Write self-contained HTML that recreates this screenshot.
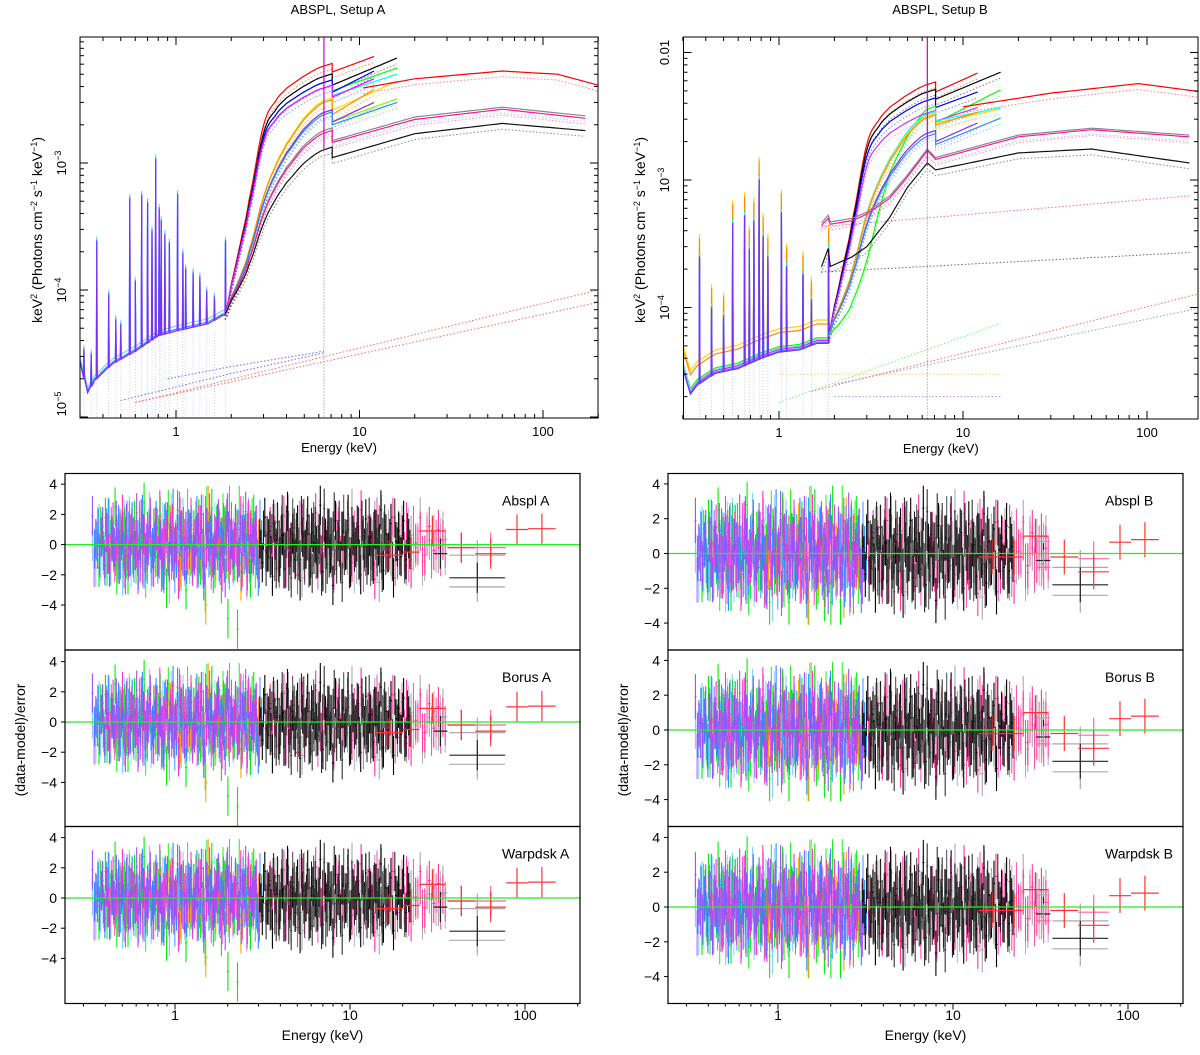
<!DOCTYPE html>
<html><head><meta charset="utf-8"><title>ABSPL spectra and residuals</title>
<style>
html,body{margin:0;padding:0;background:#fff;}
svg{display:block;font-family:"Liberation Sans","DejaVu Sans",sans-serif;}
</style></head>
<body>
<svg id="fig" width="1200" height="1055" viewBox="0 0 1200 1055" xmlns="http://www.w3.org/2000/svg">
<defs>
<clipPath id="clipTL"><rect x="80" y="37" width="518" height="381"/></clipPath>
<clipPath id="clipTR"><rect x="683.5" y="37" width="514.5" height="382"/></clipPath>
<clipPath id="clipBL0"><rect x="65" y="473.5" width="515" height="176.5"/></clipPath>
<clipPath id="clipBL1"><rect x="65" y="650" width="515" height="176.5"/></clipPath>
<clipPath id="clipBL2"><rect x="65" y="826.5" width="515" height="177"/></clipPath>
<clipPath id="clipBR0"><rect x="668" y="473.5" width="515" height="176.5"/></clipPath>
<clipPath id="clipBR1"><rect x="668" y="650" width="515" height="176.5"/></clipPath>
<clipPath id="clipBR2"><rect x="668" y="826.5" width="515" height="177"/></clipPath>
</defs>
<text x="338" y="14" font-size="13" text-anchor="middle">ABSPL, Setup A</text>
<text x="940" y="14" font-size="13" text-anchor="middle">ABSPL, Setup B</text>
</svg>
<script>
// ===== DATA =====
const baseE_A = [0.3,0.33,0.36,0.45,0.6,0.8,1.0,1.5,1.8];
const baseF_A = [2.8e-5,1.6e-5,2.0e-5,2.7e-5,3.4e-5,4.5e-5,4.9e-5,5.6e-5,6.5e-5];
const lineE_A = [0.315,0.345,0.37,0.43,0.47,0.5,0.56,0.6,0.65,0.7,0.74,0.775,0.81,0.83,0.87,0.92,1.02,1.09,1.13,1.24,1.35,1.47,1.62,1.86];
const lineF_A = [3.5e-5,3.2e-5,2.5e-4,9.5e-5,6e-5,5.5e-5,5.4e-4,1.2e-4,5.7e-4,5.0e-4,3.0e-4,1.1e-3,4.5e-4,3.6e-4,2.8e-4,2.4e-4,5.8e-4,2.0e-4,1.5e-4,1.4e-4,1.3e-4,1.0e-4,9e-5,2.5e-4];
const baseE_B = [0.3,0.33,0.36,0.45,0.6,0.8,1.0,1.3,1.6];
const baseF_B = [3.5e-5,2.2e-5,2.6e-5,3.2e-5,3.5e-5,4.2e-5,4.7e-5,4.9e-5,5.5e-5];
const lineE_B = [0.37,0.43,0.5,0.56,0.65,0.69,0.73,0.78,0.82,0.87,1.03,1.1,1.35,1.5,1.86];
const lineF_B = [2.6e-4,1.05e-4,9e-5,4.8e-4,5.5e-4,3e-4,5.0e-4,1.05e-3,3.8e-4,2.6e-4,5.8e-4,2.2e-4,1.9e-4,1.2e-4,3e-4];
const riseE = [1.85,2,2.25,2.5,3,3.5,4,5,6.4];
const riseS1 = [0,0.12,0.29,0.46,0.76,0.86,0.91,0.96,1];
const riseS2 = [0,0.08,0.18,0.3,0.55,0.7,0.8,0.92,1];
const riseS3 = [0,0.03,0.08,0.15,0.33,0.55,0.72,0.88,1];
const curvesA = [
 {c:'#ff0000',L:5.8e-3,s:1,tail:[[7.1,5.2e-3],[12,6.9e-3]]},
 {c:'#000000',L:4.8e-3,s:1,tail:[[7.1,4.1e-3],[16,6.7e-3]]},
 {c:'#00ff00',L:4.3e-3,s:1,tail:[[7.1,3.7e-3],[16,5.6e-3]]},
 {c:'#0000ff',L:4.3e-3,s:1,tail:[[7.1,3.6e-3],[12,5.3e-3]]},
 {c:'#00ffff',L:3.9e-3,s:1,tail:[[7.1,3.4e-3],[16,5.0e-3]]},
 {c:'#ff00ff',L:3.9e-3,s:1,tail:[[7.1,3.3e-3],[12,4.6e-3]]},
 {c:'#ffd700',L:3.1e-3,s:2,tail:[[7.1,2.6e-3],[16,4.4e-3]]},
 {c:'#ff8c00',L:3.0e-3,s:2,tail:[[7.1,2.4e-3],[12,3.8e-3]]},
 {c:'#7cfc00',L:2.5e-3,s:2,tail:[[7.1,2.1e-3],[16,3.2e-3]]},
 {c:'#8a2be2',L:2.5e-3,s:2,tail:[[7.1,2.1e-3],[12,3.0e-3]]},
 {c:'#1e90ff',L:2.4e-3,s:2,tail:[[7.1,2.0e-3],[16,3.0e-3]]},
 {c:'#888888',L:1.8e-3,s:2,tail:[[7.1,1.5e-3],[20,2.3e-3],[60,2.75e-3],[170,2.35e-3]]},
 {c:'#ff1493',L:1.72e-3,s:2,tail:[[7.1,1.45e-3],[20,2.2e-3],[60,2.65e-3],[170,2.25e-3]]},
 {c:'#111111',L:1.27e-3,s:2,tail:[[7.1,1.1e-3],[20,1.7e-3],[60,2.05e-3],[170,1.8e-3]]}
];
const bespokeA = [
 {c:'#ff0000',pts:[[10.5,3.9e-3],[20,4.6e-3],[60,5.3e-3],[120,5.0e-3],[200,4.1e-3]]}
];
const curvesB = [
 {c:'#ff0000',L:5.6e-3,s:1,tail:[[7.1,4.9e-3],[12,6.9e-3]]},
 {c:'#000000',L:4.9e-3,s:1,tail:[[7.1,4.3e-3],[16,7.0e-3]]},
 {c:'#0000ff',L:4.2e-3,s:1,tail:[[7.1,3.7e-3],[12,4.9e-3]]},
 {c:'#00ff00',L:3.6e-3,s:3,tail:[[7.1,2.8e-3],[16,5.1e-3]]},
 {c:'#cc33ff',L:3.35e-3,s:1,tail:[[7.1,2.9e-3],[12,3.7e-3]]},
 {c:'#00ffff',L:3.3e-3,s:2,tail:[[7.1,2.9e-3],[16,3.7e-3]]},
 {c:'#ffd700',L:3.2e-3,s:2,tail:[[7.1,2.8e-3],[16,3.6e-3]]},
 {c:'#ff8c00',L:3.1e-3,s:2,tail:[[7.1,2.7e-3],[12,3.4e-3]]},
 {c:'#8a2be2',L:2.33e-3,s:2,tail:[[7.1,2.0e-3],[12,2.8e-3]]},
 {c:'#1e90ff',L:2.2e-3,s:2,tail:[[7.1,1.9e-3],[16,3.06e-3]]}
];
const bespokeB = [
 {c:'#888888',pts:[[1.7,4.6e-4],[1.85,5.3e-4],[1.9,4.7e-4],[2.5,5.0e-4],[3,5.6e-4],[4,7.5e-4],[5,1.1e-3],[6.4,1.75e-3],[7.1,1.5e-3],[20,2.25e-3],[50,2.55e-3],[170,2.25e-3]]},
 {c:'#ff1493',pts:[[1.7,4.4e-4],[1.85,5.0e-4],[1.9,4.5e-4],[2.5,4.8e-4],[3,5.4e-4],[4,7.2e-4],[5,1.06e-3],[6.4,1.7e-3],[7.1,1.45e-3],[20,2.18e-3],[50,2.48e-3],[170,2.18e-3]]},
 {c:'#111111',pts:[[1.7,2.08e-4],[1.85,2.9e-4],[1.9,2.1e-4],[2.5,2.5e-4],[3,3.0e-4],[4,5.1e-4],[5,8.8e-4],[6.4,1.36e-3],[7.1,1.2e-3],[20,1.63e-3],[50,1.75e-3],[170,1.36e-3]]},
 {c:'#ff0000',pts:[[10,3.75e-3],[30,4.8e-3],[90,5.7e-3],[200,4.9e-3]]}
];
const dottedA = [
 {c:'#ff6666',pts:[[0.6,1.3e-5],[200,1.0e-4]]},
 {c:'#ff6666',pts:[[0.6,1.3e-5],[200,8e-5]]},
 {c:'#6666ff',pts:[[0.5,1.35e-5],[2,2.2e-5],[6.4,3.2e-5]]},
 {c:'#6666ff',pts:[[0.9,2.0e-5],[2,2.5e-5],[6.4,3.3e-5]]}
];
const dottedB = [
 {c:'#ff6699',pts:[[1.7,4.3e-4],[170,7.5e-4]]},
 {c:'#666666',pts:[[1.7,1.9e-4],[170,2.7e-4]]},
 {c:'#ff6666',pts:[[1.5,2.2e-5],[200,1.3e-4]]},
 {c:'#9999cc',pts:[[2,2.5e-5],[200,1.0e-4]]},
 {c:'#66ff66',pts:[[1,1.8e-5],[16,7.5e-5]]},
 {c:'#ffcc66',pts:[[1,3.0e-5],[16,3.0e-5]]},
 {c:'#9999ff',pts:[[2,2.0e-5],[16,2.0e-5]]}
];
const resPurple = [1.9,0.4,-0.6,1.2,0.8,-1.5,0.2,1.6,-0.3,0.9,1.4,-0.8,0.5,2.1,-1.2,0.7,0.1,1.8,-0.5,1.1,0.3,-1.9,1.5,0.6,-0.2,2.3,0.9,-1.1,0.4,1.3,-0.7,0.8,2.0,-1.4,0.2,1.0,-0.4,1.7,0.5,-2.2,0.9,0.3,1.4,-0.9,0.6,2.2,-0.6,0.1,1.2,-1.6];
const resBlue = [-0.3,1.1,0.5,-1.4,1.8,0.2,-0.8,1.3,0.6,-2.0,0.9,1.5,-0.4,0.3,2.0,-1.1,0.7,-0.2,1.6,0.4,-1.7,1.0,0.1,2.4,-0.9,0.5,1.2,-1.3,0.8,-0.5,1.9,0.3,-2.4,1.1,0.6,-0.7,1.4,0.2,-1.2,2.1,0.4,-0.1,1.0,-1.8,0.7,1.5,-0.6,0.9,-2.1,0.3];
const resSky = [0.2,-1.5,1.4,0.6,-0.9,1.7,0.3,-0.4,1.1,-2.1,0.8,1.9,-0.7,0.5,1.3,-1.6,0.1,2.2,-0.3,0.9,-1.0,1.5,0.4,-2.6,1.2,0.7,-0.5,1.8,0.2,-1.3,1.0,0.6,-0.8,2.0,-0.2,1.4,-1.9,0.5,0.9,-0.6,1.6,0.3,-1.4,1.1,-0.1,0.8,-2.3,1.3,0.4,-0.9];
const resLime = [-1.5,0.9,1.8,-0.4,0.6,2.5,-1.0,0.3,1.2,-2.0,0.7,1.6,-0.6,0.2,2.8,-1.3,0.5,1.1,-0.8,1.9,0.4,-2.9,1.3,0.1,-0.5,2.2,0.8,-3.0,1.0,-1.2,0.6,1.7,-0.3,-3.2,0.9,2.4,-1.6,0.3,-2.6,1.2,-4.9,0.5,-1.1,-5.6,1.4,-0.7,0.8,-2.2,2.0,-0.4];
const resMagenta = [0.8,-0.6,1.5,0.2,-1.3,2.0,0.5,-0.9,1.1,0.3,-2.0,1.7,0.6,-0.4,1.2,-1.5,0.9,2.3,-0.2,0.7,-1.1,1.4,0.1,-2.3,1.0,0.4,-0.7,1.8,0.3,-1.6,1.3,0.8,-0.3,2.1,-0.9,0.5,1.1,-1.8,0.6,-0.5,1.5,0.2,-1.2,1.9,0.4,-2.1,0.9,-0.6,1.3,0.0];
const resOrange = [0.5,-0.8,1.2,0.3,-1.5,0.9,-0.3,1.6,0.1,-4.0,0.7,-1.1,0.4,1.3,-0.6,0.8,-2.4,0.2,1.0,-0.4];
const resBlack = [0.4,-1.2,1.8,-0.5,0.9,-2.1,0.3,1.5,-0.8,0.6,-1.6,2.2,-0.2,0.7,-1.0,1.3,-2.4,0.5,-0.3,1.9,-1.4,0.8,0.1,-0.9,2.6,-1.8,0.4,1.1,-0.6,-2.7,1.6,0.2,-1.1,0.9,-0.4,2.0,-1.5,0.6,-0.2,1.2,-2.0,0.3,1.7,-0.7,0.5,-1.3,1.0,-0.1,2.3,-1.7,0.7,-0.5,1.4,-2.2,0.2,0.9,-0.8,1.6,-1.0,0.4];
const resGrey = [0.6,-0.9,1.4,-1.6,0.3,2.0,-0.5,0.9,-2.2,1.1,0.2,-1.0,1.7,-0.3,0.7,-1.9,1.2,0.0,-0.7,2.4,-1.3,0.5,0.9,-0.4,1.6,-2.5,0.4,1.0,-0.8,0.2,1.3,-1.4,0.6,-0.2,1.8,-1.1,0.3,0.7,-0.6,0.9];
const resPink = [-0.4,1.2,0.6,-1.5,1.9,-0.2,0.8,-2.0,1.4,0.3,-0.9,2.1,-0.6,0.5,1.1,-1.7,0.9,-0.3,1.6,-1.2,0.2,2.3,-0.8,0.7,-2.3,1.3,0.4,-0.5,1.8,-1.0,0.6,1.5,-1.6,0.1,0.9,-0.7,1.2,-0.4,1.0,0.3];
const batRedA = [[14,20,-0.7],[20,25,-0.5],[25,35,0.9],[36,52,-0.2],[52,78,-0.6],[78,104,1.0],[104,150,1.05]];
const batPinkA = [[36,52,-0.2],[52,78,-0.2]];
const batBlackA = [[30,36,-0.6],[37,77,-2.2]];
const batGreyA = [[30,36,0.35],[37,77,-2.8],[37,77,-0.7]];
const batRedB = [[14,20,-0.2],[20,25,-0.2],[25,35,1.0],[36,52,-0.2],[52,78,-1.05],[78,104,0.65],[104,150,0.8]];
const batPinkB = [[30,36,-0.8],[52,78,-0.3]];
const batBlackB = [[30,36,-0.4],[37,77,-1.8]];
const batGreyB = [[30,36,0.7],[37,77,-2.4],[37,77,-0.8]];
const panelLabelsA = ['Abspl A','Borus A','Warpdsk A'];
const panelLabelsB = ['Abspl B','Borus B','Warpdsk B'];
const yTicksRes = [-4,-2,0,2,4];
const xMajor = [1,10,100];
const xMajorLabels = ['1','10','100'];

// ===== RENDER =====
const NS='http://www.w3.org/2000/svg';
const svg=document.getElementById('fig');
function mk(tag,attrs,parent){const e=document.createElementNS(NS,tag);for(const k in attrs)e.setAttribute(k,attrs[k]);(parent||svg).appendChild(e);return e;}
const L10=Math.log10;
function interpLog(xs,ys,x){
  const lx=L10(x);
  if(x<=xs[0])return ys[0];
  for(let i=1;i<xs.length;i++){if(x<=xs[i]){const t=(lx-L10(xs[i-1]))/(L10(xs[i])-L10(xs[i-1]));return Math.pow(10,L10(ys[i-1])+t*(L10(ys[i])-L10(ys[i-1])));}}
  return ys[ys.length-1];
}
function interpLin(xs,ys,x){const lx=L10(x);if(x<=xs[0])return ys[0];for(let i=1;i<xs.length;i++){if(x<=xs[i]){const t=(lx-L10(xs[i-1]))/(L10(xs[i])-L10(xs[i-1]));return ys[i-1]+t*(ys[i]-ys[i-1]);}}return ys[ys.length-1];}

const TL={x:E=>176+L10(E)*183.5,y:f=>163-(L10(f)+3)*127,clip:'clipTL',x0:80,x1:598,y0:37,y1:418,emin:0.3,emax:205};
const TR={x:E=>779+L10(E)*184,y:f=>180-(L10(f)+3)*127.5,clip:'clipTR',x0:683.5,x1:1198,y0:37,y1:419,emin:0.3,emax:205};

function polyStr(ax,pts){return pts.map(p=>ax.x(p[0]).toFixed(1)+','+ax.y(p[1]).toFixed(1)).join(' ');}
function densify(pts){
  const out=[];for(let i=0;i<pts.length-1;i++){const a=pts[i],b=pts[i+1];const n=Math.max(1,Math.ceil((L10(b[0])-L10(a[0]))/0.03));for(let k=0;k<n;k++){const e=Math.pow(10,L10(a[0])+(L10(b[0])-L10(a[0]))*k/n);out.push([e,interpLog([a[0],b[0]],[a[1],b[1]],e)]);}}
  out.push(pts[pts.length-1]);return out;
}
function smoothS(S,e){ // smooth (catmull-like) interpolation of shape in log E
  const lx=L10(e);
  let i=1;while(i<riseE.length-1&&e>riseE[i])i++;
  const x0=L10(riseE[i-1]),x1=L10(riseE[i]);const t=Math.max(0,Math.min(1,(lx-x0)/(x1-x0)));
  const p0=S[Math.max(0,i-2)],p1=S[i-1],p2=S[i],p3=S[Math.min(S.length-1,i+1)];
  return 0.5*((2*p1)+(-p0+p2)*t+(2*p0-5*p1+4*p2-p3)*t*t+(-p0+3*p1-3*p2+p3)*t*t*t);
}
function curvePts(cv,f0){
  const S=cv.s===1?riseS1:cv.s===2?riseS2:riseS3;
  const pts=[];
  for(let e=1.85;e<=6.4001;e*=1.015){const s=smoothS(S,e);pts.push([e,Math.pow(10,L10(f0)+s*(L10(cv.L)-L10(f0)))]);}
  pts.push([6.4,cv.L]);pts.push([7.1,cv.L*1.05]);
  return pts.concat(densify(cv.tail));
}
function spectrumPts(bE,bF,lE,lF,scale){
  const pts=[];bE.forEach((e,i)=>pts.push([e,bF[i]*scale]));
  lE.forEach((e,i)=>{const b=interpLog(bE,bF,e)*scale;pts.push([e*0.994,b]);pts.push([e,lF[i]*scale]);pts.push([e*1.006,b]);});
  pts.sort((a,b)=>a[0]-b[0]);return pts;
}

function drawTop(ax,side,bE,bF,lE,lF,curves,bespoke,dotted,softCols,f0,yTicks,yLabels,yTitleX,tickLabelX){
  const g=mk('g',{'clip-path':'url(#'+ax.clip+')'});
  
  
  lE.forEach((e,i)=>{const l=mk('line',{x1:ax.x(e),x2:ax.x(e),y1:ax.y(lF[i]*0.5),y2:ax.y0+400,stroke:'#8899ff','stroke-width':0.8,'stroke-dasharray':'1,2',opacity:0.6},g);
    });
  dotted.forEach(d=>{const p=mk('polyline',{points:polyStr(ax,densify(d.pts)),fill:'none',stroke:d.c,'stroke-width':1,'stroke-dasharray':'1.5,2'},g);
    });
  const allPts=curves.map(c=>({c:c.c,pts:curvePts(c,f0)})).concat(bespoke.map(b=>({c:b.c,pts:densify(b.pts)})));
  allPts.forEach(cv=>{const p=mk('polyline',{points:polyStr(ax,cv.pts.map(q=>[q[0],q[1]*0.9])),fill:'none',stroke:cv.c,'stroke-width':1,'stroke-dasharray':'1.5,2',opacity:0.5},g);
    });
  softCols.forEach(sc=>{const p=mk('polyline',{points:polyStr(ax,spectrumPts(bE,bF,lE,lF,sc.k)),fill:'none',stroke:sc.c,'stroke-width':1.2},g);
    });
  allPts.forEach(cv=>{const p=mk('polyline',{points:polyStr(ax,cv.pts),fill:'none',stroke:cv.c,'stroke-width':1.2},g);
    });
  const fe=mk('line',{x1:ax.x(6.4),x2:ax.x(6.4),y1:ax.y0,y2:ax.y(1.3e-3),stroke:'#cc00cc','stroke-width':1.2},g);
  
  const fe2=mk('line',{x1:ax.x(6.4),x2:ax.x(6.4),y1:ax.y(1.3e-3),y2:ax.y1,stroke:'#7777cc','stroke-width':1,'stroke-dasharray':'1,2'},g);
  
  const fr=mk('rect',{x:ax.x0,y:ax.y0,width:ax.x1-ax.x0,height:ax.y1-ax.y0,fill:'none',stroke:'#000','stroke-width':1});
  
  for(let d=-1;d<=2;d++)for(let m=1;m<=9;m++){const e=m*Math.pow(10,d);if(e<ax.emin||e>ax.emax)continue;const x=ax.x(e);const len=m===1?8:4;
    mk('line',{x1:x,x2:x,y1:ax.y1,y2:ax.y1-len,stroke:'#000','stroke-width':1});mk('line',{x1:x,x2:x,y1:ax.y0,y2:ax.y0+len,stroke:'#000','stroke-width':1});}
  xMajor.forEach((e,i)=>{const t=mk('text',{x:ax.x(e),y:ax.y1+18,'font-size':13,'text-anchor':'middle'});t.textContent=xMajorLabels[i];
    });
  const xt=mk('text',{x:(ax.x0+ax.x1)/2,y:ax.y1+34,'font-size':13,'text-anchor':'middle'});xt.textContent='Energy (keV)';
  
  for(let d=-6;d<=-1;d++)for(let m=1;m<=9;m++){const f=m*Math.pow(10,d);const y=ax.y(f);if(y<ax.y0-0.5||y>ax.y1+0.5)continue;const len=m===1?8:4;
    mk('line',{x1:ax.x0,x2:ax.x0+len,y1:y,y2:y,stroke:'#000','stroke-width':1});mk('line',{x1:ax.x1,x2:ax.x1-len,y1:y,y2:y,stroke:'#000','stroke-width':1});}
  yTicks.forEach((f,i)=>{const y=Math.min(ax.y(f),ax.y1-14);const t=mk('text',{x:tickLabelX,y:y,'font-size':13,'text-anchor':'middle',transform:'rotate(-90 '+tickLabelX+' '+y+')'});
    t.innerHTML=yLabels[i];});
  const yt=mk('text',{x:yTitleX,y:230,'font-size':14,'text-anchor':'middle',transform:'rotate(-90 '+yTitleX+' 230)'});
  yt.innerHTML='keV<tspan font-size="9" dy="-5">2</tspan><tspan dy="5"> (Photons cm</tspan><tspan font-size="9" dy="-5">−2</tspan><tspan dy="5"> s</tspan><tspan font-size="9" dy="-5">−1</tspan><tspan dy="5"> keV</tspan><tspan font-size="9" dy="-5">−1</tspan><tspan dy="5">)</tspan>';
  
}
const supLbl=p=>'10<tspan font-size="9" dy="-5">−'+p+'</tspan>';
drawTop(TL,'a',baseE_A,baseF_A,lineE_A,lineF_A,curvesA,bespokeA,dottedA,
  [{c:'#87cefa',k:1.06},{c:'#1e90ff',k:1.0},{c:'#7b2ff7',k:0.97}],6.5e-5,[1e-3,1e-4,1e-5],[supLbl(3),supLbl(4),supLbl(5)],42,66);
drawTop(TR,'b',baseE_B,baseF_B,lineE_B,lineF_B,curvesB,bespokeB,dottedB,
  [{c:'#ffd700',k:1.45},{c:'#ff8c00',k:1.35},{c:'#00ff00',k:1.05},{c:'#ff00ff',k:1.0},{c:'#87cefa',k:1.02},{c:'#1e90ff',k:0.97},{c:'#7b2ff7',k:0.95}],6.0e-5,[1e-2,1e-3,1e-4],['0.01',supLbl(3),supLbl(4)],645,669);

function drawRes(side,xoff,x0,x1,zeros,unit,labels,labelX,bats,lowClamp){
  const ax=E=>xoff+L10(E)*175;
  const tops=[473.5,650,826.5],bots=[650,826.5,1003.5];
  const soft=[{v:resSky,c:'#87cefa',a:0.33,b:3.0},{v:resLime,c:'#00ee00',a:0.36,b:3.0},{v:resOrange,c:'#ffa500',a:0.8,b:3.0},{v:resBlue,c:'#1e90ff',a:0.34,b:3.2},{v:resMagenta,c:'#ff33cc',a:0.4,b:3.1},{v:resPurple,c:'#9b4dff',a:0.33,b:3.1}];
  const hard=[{v:resGrey,c:'#aaaaaa',a:3.2,b:35},{v:resPink,c:'#ff3399',a:3.2,b:35},{v:resBlack,c:'#000000',a:3.0,b:22},{v:resGrey,c:'#333333',a:3.3,b:16}];
  zeros.forEach((z,pi)=>{
    const Y=v=>z-v*unit;
    const g=mk('g',{'clip-path':'url(#clip'+side+pi+')'});
    
    
    const sh=pi*0.07;
    soft.concat(hard).forEach(s=>{
      const n=s.v.length;
      s.v.forEach((v,i)=>{
        const e=Math.pow(10,L10(s.a)+(L10(s.b)-L10(s.a))*(i+0.5)/n);
        const x=ax(e);const hw=Math.max(1,(ax(s.b)-ax(s.a))/n*0.3);
        let vv=v+(pi===2?-sh:sh*0.5)*(v>0?1:-1)*0.3;
        vv=Math.max(vv,lowClamp);
        const el=mk('path',{d:'M'+x.toFixed(1)+','+Y(vv+1.3).toFixed(1)+'V'+Y(vv-1.3).toFixed(1)+'M'+(x-hw).toFixed(1)+','+Y(vv).toFixed(1)+'H'+(x+hw).toFixed(1),stroke:s.c,'stroke-width':1.1,fill:'none'},g);
        
      });
      s.v.forEach((v,i)=>{
        const e=Math.pow(10,L10(s.a)+(L10(s.b)-L10(s.a))*(i+1)/n);
        if(e>s.b)return;const x=ax(e);const vv=Math.max(-2.6,Math.min(2.6,-v*0.8));
        const el=mk('path',{d:'M'+x.toFixed(1)+','+Y(vv+1.3).toFixed(1)+'V'+Y(vv-1.3).toFixed(1),stroke:s.c,'stroke-width':1,fill:'none',opacity:0.9},g);
        
      });
    });
    bats.forEach(b=>{b.d.forEach(r=>{const xa=ax(r[0]),xb=ax(r[1]),xm=ax(Math.sqrt(r[0]*r[1]));
      const el=mk('path',{d:'M'+xa.toFixed(1)+','+Y(r[2]).toFixed(1)+'H'+xb.toFixed(1)+'M'+xm.toFixed(1)+','+Y(r[2]+1).toFixed(1)+'V'+Y(r[2]-1).toFixed(1),stroke:b.c,'stroke-width':1.2,fill:'none'},g);
      });});
    const zl=mk('line',{x1:x0,x2:x1,y1:z,y2:z,stroke:'#22ee22','stroke-width':1.2},g);
    
    const fr=mk('rect',{x:x0,y:tops[pi],width:x1-x0,height:bots[pi]-tops[pi],fill:'none',stroke:'#000','stroke-width':1.2});
    
    yTicksRes.forEach(t=>{const y=Y(t);mk('line',{x1:x0-4,x2:x0,y1:y,y2:y,stroke:'#000','stroke-width':1});
      const tx=mk('text',{x:x0-8,y:y+5,'font-size':14,'text-anchor':'end'});tx.textContent=t<0?'−'+(-t):String(t);
      });
    const lb=mk('text',{x:labelX,y:tops[pi]+32,'font-size':14});lb.textContent=labels[pi];
    
  });
  for(let d=-1;d<=2;d++)for(let m=1;m<=9;m++){const e=m*Math.pow(10,d);const x=ax(e);if(x<x0||x>x1)continue;
    mk('line',{x1:x,x2:x,y1:1003.5,y2:1003.5+(m===1?6:3),stroke:'#000','stroke-width':1});}
  xMajor.forEach((e,i)=>{const t=mk('text',{x:ax(e),y:1020,'font-size':14,'text-anchor':'middle'});t.textContent=xMajorLabels[i];
    });
  const xt=mk('text',{x:(x0+x1)/2,y:1040,'font-size':14,'text-anchor':'middle'});xt.textContent='Energy (keV)';
  
  const yx=x0-40;
  const yt=mk('text',{x:yx,y:740,'font-size':14,'text-anchor':'middle',transform:'rotate(-90 '+yx+' 740)'});yt.textContent='(data-model)/error';
  
}
drawRes('BL',175,65,580,[544.6,722,898],15.1,panelLabelsA,502,
  [{c:'#aaaaaa',d:batGreyA},{c:'#222222',d:batBlackA},{c:'#ff6699',d:batPinkA},{c:'#ff3333',d:batRedA}],-9);
drawRes('BR',778,668,1183,[553.5,730,907],17.4,panelLabelsB,1105,
  [{c:'#aaaaaa',d:batGreyB},{c:'#222222',d:batBlackB},{c:'#ff6699',d:batPinkB},{c:'#ff3333',d:batRedB}],-2.8);
</script>
</body></html>
